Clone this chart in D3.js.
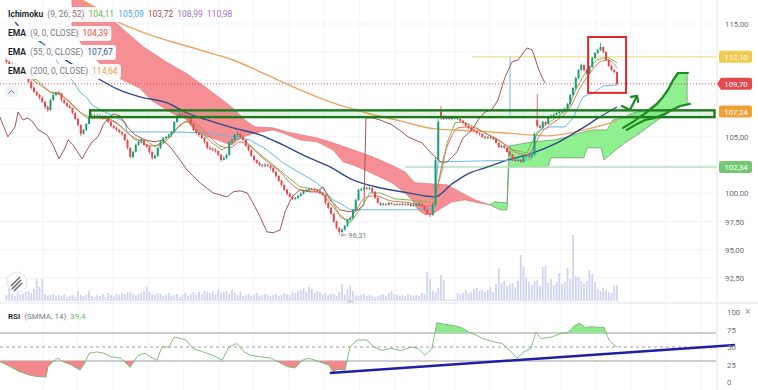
<!DOCTYPE html>
<html>
<head>
<meta charset="utf-8">
<script src="https://cdn.jsdelivr.net/npm/d3@7"></script>
<style>
body{margin:0;background:#fff;}
svg{display:block;font-family:Roboto,"Noto Sans",sans-serif;}
</style>
</head>
<body>
<svg id="chart" width="758" height="390"></svg>
<script>
// ---- data (bar index, prices) ----
const candles = [
[112.0,112.2,111.5,111.64],[111.64,111.8,111.1,111.28],[111.28,111.6,111.2,111.46],[111.46,111.5,111.0,111.11],[111.11,111.2,110.6,110.75],[110.75,111.0,110.7,110.93],[110.93,111.0,110.5,110.58],[110.58,110.7,110.1,110.22],[110.22,110.4,109.8,109.87],[109.87,110.0,109.2,109.34],
[109.34,109.5,108.9,108.98],[108.98,109.1,108.6,108.72],[108.72,108.8,108.3,108.45],[108.45,108.6,108.0,108.10],[108.10,108.2,107.5,107.65],[107.65,107.8,107.2,107.39],[107.39,108.4,107.3,108.27],[108.27,108.9,108.2,108.72],[108.72,109.0,108.6,108.89],[108.89,109.1,108.7,108.85],
[108.85,108.9,108.1,108.27],[108.27,108.4,107.9,108.01],[108.01,108.1,107.6,107.74],[107.74,107.9,107.5,107.57],[107.57,107.6,107.0,107.12],[107.12,107.2,106.5,106.59],[106.59,106.7,105.9,106.06],[106.06,106.1,105.1,105.27],[105.27,105.7,105.2,105.62],[105.62,106.2,105.5,106.15],
[106.15,106.8,106.1,106.68],[106.68,107.0,106.6,106.86],[106.86,107.0,106.6,106.77],[106.77,107.0,106.7,106.86],[106.86,107.0,106.6,106.77],[106.77,106.9,106.5,106.68],[106.68,106.9,106.6,106.77],[106.77,106.8,106.2,106.33],[106.33,106.4,105.9,105.97],[105.97,106.1,105.7,105.80],
[105.80,105.9,105.5,105.62],[105.62,105.7,105.3,105.44],[105.44,105.5,105.1,105.27],[105.27,105.3,104.6,104.73],[104.73,104.8,103.9,104.03],[104.03,104.1,103.1,103.23],[103.23,103.8,103.1,103.67],[103.67,104.4,103.6,104.29],[104.29,104.7,104.2,104.56],[104.56,104.9,104.4,104.73],
[104.73,104.8,104.2,104.29],[104.29,104.4,104.0,104.12],[104.12,104.2,103.5,103.67],[103.67,103.7,103.0,103.14],[103.14,103.5,103.0,103.32],[103.32,104.1,103.2,104.03],[104.03,104.7,103.9,104.56],[104.56,105.0,104.4,104.91],[104.91,105.1,104.8,105.00],[105.00,105.3,104.9,105.18],
[105.18,105.5,105.0,105.44],[105.44,106.4,105.3,106.33],[106.33,107.0,106.2,106.86],[106.86,107.3,106.7,107.04],[107.04,107.3,106.8,106.95],[106.95,107.2,106.7,106.86],[106.86,107.1,106.5,106.68],[106.68,106.8,106.0,106.15],[106.15,106.2,105.5,105.62],[105.62,105.7,105.2,105.35],
[105.35,105.4,105.0,105.18],[105.18,105.3,104.8,104.91],[104.91,105.0,104.4,104.56],[104.56,104.6,103.9,104.03],[104.03,104.2,103.8,103.94],[103.94,104.1,103.7,103.85],[103.85,104.0,103.6,103.76],[103.76,103.8,103.3,103.41],[103.41,103.5,102.8,102.96],[102.96,103.3,102.9,103.14],
[103.14,103.5,103.0,103.41],[103.41,104.6,103.3,104.56],[104.56,104.9,104.4,104.73],[104.73,105.3,104.6,105.18],[105.18,105.5,105.0,105.27],[105.27,105.4,104.9,105.00],[105.00,105.1,104.6,104.73],[104.73,104.8,104.1,104.20],[104.20,104.3,103.7,103.85],[103.85,103.9,103.2,103.32],
[103.32,103.4,102.8,102.96],[102.96,103.0,102.6,102.70],[102.70,102.8,102.4,102.52],[102.52,102.6,102.3,102.43],[102.43,102.7,102.3,102.52],[102.52,102.6,102.3,102.43],[102.43,102.5,102.1,102.26],[102.26,102.3,101.8,101.90],[101.90,102.0,101.4,101.55],[101.55,101.6,101.0,101.11],
[101.11,101.2,100.6,100.75],[100.75,100.8,100.2,100.31],[100.31,100.4,99.8,99.96],[99.96,100.1,99.6,99.69],[99.69,99.8,99.4,99.51],[99.51,99.7,99.4,99.60],[99.60,99.9,99.5,99.78],[99.78,100.1,99.7,99.96],[99.96,100.3,99.9,100.22],[100.22,100.4,100.1,100.31],
[100.31,100.5,100.2,100.40],[100.40,100.5,100.3,100.38],[100.38,100.5,100.2,100.31],[100.31,100.4,100.1,100.22],[100.22,100.3,99.9,100.04],[100.04,100.1,99.8,99.87],[99.87,99.9,99.0,99.16],[99.16,99.2,98.6,98.72],[98.72,98.8,98.1,98.19],[98.19,98.3,97.4,97.48],
[97.48,97.6,96.8,96.95],[96.95,97.0,96.31,96.59],[96.59,96.9,96.5,96.77],[96.77,97.2,96.7,97.12],[97.12,97.7,97.0,97.65],[97.65,97.9,97.5,97.83],[97.83,98.6,97.7,98.54],[98.54,99.5,98.4,99.42],[99.42,100.4,99.3,100.31],[100.31,100.5,100.2,100.35],
[100.35,100.6,100.3,100.49],[100.49,100.6,100.3,100.40],[100.40,100.6,100.3,100.49],[100.49,100.5,100.0,100.13],[100.13,100.2,99.5,99.60],[99.60,99.7,99.1,99.16],[99.16,99.2,98.9,98.98],[98.98,99.2,98.9,99.07],[99.07,99.1,98.9,98.98],[98.98,99.2,98.9,99.16],
[99.16,99.2,99.0,99.07],[99.07,99.1,98.9,98.98],[98.98,99.1,98.9,99.07],[99.07,99.1,98.9,98.98],[98.98,99.2,98.9,99.07],[99.07,99.1,98.9,98.98],[98.98,99.2,98.9,99.07],[99.07,99.1,98.8,98.89],[98.89,99.1,98.8,98.98],[98.98,99.1,98.9,99.00],
[99.00,99.2,98.9,99.07],[99.07,99.1,98.8,98.89],[98.89,98.9,98.4,98.54],[98.54,98.6,98.1,98.19],[98.19,98.3,97.9,98.10],[98.10,99.2,98.0,98.98],[98.98,103.2,98.9,102.96],[102.96,106.6,102.8,106.33],[107.21,107.75,106.5,106.77],[106.77,106.9,106.5,106.59],
[106.59,106.8,106.5,106.68],[106.68,106.8,106.5,106.59],[106.59,106.8,106.5,106.68],[106.68,106.8,106.6,106.70],[106.70,106.8,106.5,106.59],[106.59,106.7,106.3,106.42],[106.42,106.5,106.1,106.24],[106.24,106.3,105.9,105.97],[105.97,106.1,105.7,105.80],[105.80,105.9,105.5,105.62],
[105.62,105.7,105.4,105.53],[105.53,105.6,105.2,105.35],[105.35,105.4,105.1,105.27],[105.27,105.3,104.9,105.00],[105.00,105.1,104.8,104.91],[104.91,105.1,104.8,105.00],[105.00,105.1,104.8,104.91],[104.91,105.0,104.7,104.82],[104.82,104.9,104.4,104.47],[104.47,104.5,104.0,104.12],
[104.12,104.3,104.0,104.20],[104.20,104.3,103.9,104.03],[104.03,104.1,103.6,103.67],[103.67,103.8,103.3,103.41],[103.41,103.5,102.85,102.96],[102.96,103.1,102.8,102.88],[102.88,103.1,102.8,102.96],[102.96,103.0,102.7,102.79],[102.79,103.3,102.7,103.23],[103.23,103.4,103.1,103.32],
[103.32,103.4,103.1,103.23],[103.23,103.5,103.1,103.41],[103.41,105.4,103.3,105.27],[106.50,108.8,105.8,105.97],[105.97,106.1,105.7,105.80],[105.80,106.4,105.7,106.33],[106.33,106.4,106.0,106.15],[106.15,106.8,106.1,106.68],[106.68,107.0,106.6,106.86],[106.86,107.1,106.8,106.95],
[106.95,107.2,106.9,107.12],[107.12,107.3,107.0,107.21],[107.21,107.4,107.1,107.30],[107.30,107.6,107.2,107.48],[107.48,108.0,107.4,107.92],[107.92,108.8,107.8,108.72],[108.72,109.4,108.6,109.34],[109.34,110.3,109.2,110.22],[110.22,111.0,110.1,110.93],[110.93,111.5,110.8,111.37],
[111.37,111.4,110.8,110.93],[110.93,111.0,110.5,110.66],[110.66,111.3,110.6,111.19],[111.19,112.1,111.1,111.99],[111.99,112.5,111.9,112.43],[112.43,112.8,112.3,112.70],[112.70,113.32,112.6,112.96],[112.96,113.0,112.4,112.52],[112.52,112.6,111.7,111.81],[111.81,111.9,111.2,111.28],
[111.28,111.4,110.8,110.93],[110.93,111.0,110.6,110.75],[110.75,110.8,109.6,109.70]
];

const volumes = [
300,700,350,250,400,300,350,450,500,400,
600,1100,700,1100,350,250,300,350,250,300,
250,350,200,250,300,200,500,300,250,300,
500,250,200,300,250,350,200,400,300,250,
350,300,400,350,450,450,350,300,350,400,
500,700,450,350,300,400,350,250,300,400,
250,300,350,200,300,400,250,350,450,300,
450,350,500,450,400,500,350,550,400,450,
500,350,550,400,300,450,250,300,350,250,
300,400,250,300,350,300,250,300,350,250,
300,400,350,300,450,400,500,550,650,450,
700,600,400,500,450,350,400,300,350,350,
250,450,850,350,600,800,500,300,250,300,
350,250,300,250,200,250,300,350,250,400,
500,350,300,250,300,250,350,300,250,300,
250,400,350,1450,1100,500,450,650,1300,1050,
80,60,60,80,400,350,400,550,400,450,
600,650,500,550,450,550,700,450,850,1650,
900,1000,750,850,900,700,1000,2300,1700,1200,
950,800,1000,1050,750,1700,1750,900,1100,800,
950,1400,850,950,1650,1100,3300,1250,1200,1000,
850,1000,1550,1350,950,600,500,650,550,450,
400,750,800
];

const ema200 = [[0,121.1],[27,117.12],[37.6,115.53],[52.2,114.03],[70.4,112.7],[82.4,111.81],[94.7,110.49],[106.7,109.16],[118.7,108.01],[131,107.12],[143.1,106.42],[155.8,105.71],[170.4,105.53],[181.3,105.35],[196.5,105.09],[208.5,105.53],[222,106.42]];
const ema55 = [[0,116.42],[3.1,115.18],[12.9,113.32],[23.1,111.55],[32.2,110.31],[40.2,109.25],[48.5,108.54],[58.4,108.01],[65.6,107.12],[72.9,106.5],[82.4,105.8],[92.2,105.18],[100.5,104.29],[109.3,103.23],[117.6,102.35],[126,101.19],[135.8,100.49],[146,100.04],[155.8,99.69],[162,100.84],[167.8,101.73],[174,102.26],[181.3,102.88],[191.5,103.58],[200.2,104.47],[209.6,105.8],[215.8,106.77],[222,107.65]];
const ema9 = [[8.5,110.22],[12.2,109.6],[15.8,108.98],[19.5,108.72],[23.1,108.1],[26.7,107.21],[30.4,106.77],[34,106.68],[37.6,106.5],[41.3,105.97],[44.9,105.18],[48.5,104.65],[52.2,104.2],[55.8,104.29],[59.5,105],[63.1,106.06],[66.7,106.42],[70.4,105.88],[74,105],[77.6,104.2],[81.3,104.03],[84.9,104.56],[88.5,104.2],[92.2,103.32],[95.8,102.61],[99.5,101.9],[103.1,100.93],[106.7,100.31],[110.4,100.22],[114,100.04],[117.6,99.16],[121.3,98.1],[124.2,97.65],[126.7,98.36],[130.4,99.6],[134,99.78],[139.5,99.34],[146.7,99.16],[152.2,98.81],[155.1,98.98],[156.9,100.75],[158.7,102.96],[161.3,104.73],[164.2,105.8],[168.5,105.88],[174,105.35],[179.5,104.65],[184.9,103.67],[189.3,103.41],[191.5,104.03],[194,105.18],[197.6,106.06],[201.3,106.68],[204.9,107.57],[208.5,109.34],[212.2,110.66],[215.8,111.64],[218.7,111.81],[222,111.11]];
const tenkan = [[8.5,110.22],[11.1,110.04],[15.8,108.98],[19.5,108.89],[23.1,108.01],[25.6,107.39],[29.3,106.68],[34,106.68],[36.5,106.77],[40.2,106.24],[43.8,105.44],[46.7,104.73],[50.4,104.73],[54,104.12],[57.6,104.73],[61.3,105.62],[64.9,106.33],[67.5,106.24],[71.1,105.35],[74.7,104.47],[78.4,103.85],[80.5,104.12],[83.1,104.73],[85.6,104.91],[90.4,103.85],[94.7,102.96],[100.5,101.81],[106.7,100.58],[112.9,100.31],[117.6,99.69],[121.3,97.92],[124.9,97.39],[128.5,98.54],[132.2,100.04],[135.8,100.04],[141.3,99.51],[146,99.42],[153.3,99.25],[155.8,99.69],[158.4,102.08],[160.2,104.47],[163.1,106.24],[165.6,106.33],[170.4,105.88],[175.1,105.18],[180.2,104.47],[184.2,103.85],[189.3,103.58],[191.5,104.73],[195,105.88],[200.2,106.77],[203.8,107.39],[207.5,109.42],[211.1,110.93],[214.7,111.81],[218.4,112.08],[220.5,111.81],[222,111.55]];
const kijun = [[12.2,113.58],[23.8,110.04],[26.7,108.98],[29.3,108.45],[31.1,107.83],[32.9,107.57],[36.5,107.12],[40.2,106.68],[43.1,106.33],[43.8,105.44],[60.2,105.44],[72.9,105.35],[82.4,105],[88.5,104.73],[94.7,103.85],[100.5,102.7],[106.7,101.81],[112.9,100.93],[118.7,99.42],[122.4,98.98],[124.9,98.54],[147.5,98.54],[155.8,98.72],[156.9,102.79],[190.4,102.96],[192.9,105.44],[197.6,105.88],[203.1,105.88],[206,106.68],[209.6,108.54],[214,108.98],[216.9,109.51],[222,109.6]];
const chikou = [[-2.4,106.77],[0.5,105],[3.1,105.88],[4.2,107.21],[6,106.5],[7.8,106.68],[9.6,106.33],[11.5,105.62],[14.7,105.18],[16.9,104.29],[19.1,103.05],[21.3,104.03],[22.4,104.73],[24.2,104.29],[27.5,103.05],[29.3,103.85],[31.1,104.56],[32.9,104.91],[34,105.35],[35.1,106.06],[36.5,106.5],[38.7,107.04],[41.3,106.86],[44.2,105.8],[46.7,105.18],[50.4,104.73],[54,104.56],[56.9,104.73],[59.5,104.12],[63.1,102.96],[65.6,102.08],[70.4,100.93],[75.1,100.04],[80.2,99.69],[82.4,100.13],[84.9,100.22],[87.5,100.04],[89.6,99.16],[92.2,97.92],[94.7,96.59],[96.9,96.5],[99.5,96.77],[101.3,98.36],[103.8,99.69],[106.7,100.31],[110.4,100.13],[112.9,100.13],[115.1,100.58],[117.6,99.42],[121.3,98.54],[124.9,98.36],[127.8,98.54],[130,98.98],[130.7,106.68],[133.3,106.68],[135.8,106.5],[140.2,106.06],[143.8,105.44],[146,105],[148.5,104.73],[151.1,104.47],[153.3,103.85],[155.8,103.23],[158.4,102.7],[160.2,102.79],[162,103.23],[163.8,103.67],[166,104.91],[169.3,105.62],[171.5,106.5],[174,107.21],[176.5,107.39],[178.7,108.27],[181.3,110.31],[183.8,111.64],[186,111.81],[187.8,112.43],[189.3,112.88],[191.1,112.7],[192.2,111.99],[193.3,111.11],[194.7,110.31],[195.8,109.78]];

// Ichimoku cloud edges
const bearTop = [[23.8,117.6],[34,116.3],[40.2,115.0],[49.6,113.0],[58.4,111.6],[65.6,110.6],[72.9,109.3],[79.5,108.1],[83.1,107.39],[86.7,106.5],[90.4,105.88],[96.9,105.8],[102,105.44],[112.9,104.91],[118.7,104.47],[126,103.85],[131.1,103.41],[135.8,102.96],[141.3,102.35],[144.9,101.9],[148.5,100.93],[160.2,100.75],[165.6,100.04],[170.4,99.42],[175.8,98.98]];
const bearBottom = [[23.8,114.5],[28.5,112.8],[34,111.5],[40.2,110.3],[48.5,109.3],[52.9,108.2],[57.6,107.5],[61.3,106.95],[64.9,106.68],[67.5,105.88],[69.6,105.35],[73.3,105],[76.9,104.73],[79.5,104.47],[82,104.29],[84.2,104.73],[86,105],[90.4,105.35],[96.9,105.62],[100.5,105.35],[106.7,104.73],[112.9,104.56],[118.7,103.85],[122.4,102.79],[126,102.52],[128.5,102.26],[134,101.64],[140.2,100.93],[144.9,100.04],[147.5,99.42],[149.6,98.54],[152.2,98.1],[155.1,98.19],[158.4,98.72],[162,99.25],[166.7,99.42],[171.5,99.16],[175.8,98.98]];
const bullTop = [[175.8,98.98],[177.6,99.25],[181.3,99.16],[182,99.16],[182.7,104.2],[191.5,104.56],[198.9,104.73],[204,105],[208.5,105.35],[213.3,105.62],[218.4,105.62],[220.5,106.5],[224.2,106.68],[227.8,107.12],[232.9,107.39],[236.5,108.01],[240.2,108.89],[243.8,110.66],[247.5,110.66]];
const bullBottom = [[175.8,98.98],[179.5,98.54],[182,98.54],[182.7,102.35],[196.9,102.35],[198,103.14],[210,103.14],[211.1,104.03],[216.2,104.03],[217.3,102.96],[220.2,103.58],[224.9,104.47],[230.4,105.35],[235.8,106.33],[239.5,106.95],[243.1,107.57],[247.5,107.83]];

const rsi = [[-2.4,29],[1.3,22],[4.5,15],[8.2,10],[10.7,8],[14.4,7],[15.1,22],[16.9,29],[18.7,34],[20.5,29],[23.8,24],[26.7,17],[28.5,27],[30,41],[32.9,43],[35.5,41],[38,36],[41.6,34],[44.2,24],[44.9,21],[47.8,38],[50.4,41],[52.2,36],[54.7,31],[56.5,50],[59.1,50],[60.9,64],[63.5,62],[65.3,60],[67.8,48],[71.5,43],[75.1,38],[78.4,31],[80.9,50],[83.8,55],[86.4,43],[88.9,38],[92.5,36],[96.2,34],[98.7,29],[102,22],[104.9,20],[107.5,31],[110,34],[113.6,29],[117.3,24],[118.7,15],[120.5,18],[123.1,17],[124.9,50],[127.5,60],[131.1,60],[133.6,50],[136.5,45],[139.8,48],[143.5,45],[147.1,50],[149.6,48],[152.2,38],[154.7,48],[156.5,85],[158.4,83],[162,81],[165.3,78],[168.2,71],[170.7,67],[173.3,62],[177.6,57],[180.2,55],[183.1,45],[185.6,34],[188.2,43],[190.7,48],[192.5,71],[194.4,62],[198,64],[201.3,69],[204.2,71],[206.7,81],[208.5,84],[210.4,78],[212.9,79],[215.5,78],[217.3,78],[219.1,60],[220.9,53],[222,50]];

// levels and drawings
const priceTicks = [92.5,95,97.5,100,102.5,105,107.5,110,112.5,115];
const rsiTicks = [0,25,50,75,100];
const gridBars = [13.3,26,38.7,51.5,64.5,77.3,90,102.7,115.5,128.5,141.3,154,163.1,175.8,188.5,201.6,214.4,227.1,239.8,252.5];
const badges = [[112.10,"#f2c94c"],[109.70,"#e5484d"],[107.24,"#f0a134"],[102.34,"#72c972"]];
const zone = {from:30.4, top:107.35, bottom:106.75};
const yellowLevel = {from:169.3, price:112.10};
const greenLevel = {from:144.9, price:102.34};
const blueMarker = {bar:183.1, from:112.10, to:106.9};
const lastPrice = 109.70;
const redBox = {x0:211.5, x1:225.3, top:113.85, bottom:108.9};
const penUpper = [[224.2,105.8],[227.8,106.33],[231.5,106.95],[234,107.39],[236.5,107.92],[238.7,108.54],[240.5,109.16],[242.4,110.04],[244.2,110.66],[247.8,110.66]];
const penLower = [[225.6,105.62],[229.3,106.15],[232.2,106.5],[235.8,106.68],[239.5,107.04],[242,107.39],[244.9,107.74],[248.5,107.92]];
const penArrow = [[223.8,107.74],[226.7,107.39],[229.3,108.63]];
const rsiTrend = [[117.6,12.9],[264.9,52.9]];

// ---- scales ----
const svg = d3.select("#chart");
const axisX = 716;
const x = d3.scaleLinear().domain([0,248]).range([6.5,688.5]);
const y = d3.scaleLinear().domain([92.5,115]).range([278,24]);
const yV = d3.scaleLinear().domain([0,3400]).range([301,233]);
const yR = d3.scaleLinear().domain([0,100]).range([382,312]);
const fmt = v => v.toFixed(2).replace(".",",");

const defs = svg.append("defs");
defs.append("clipPath").attr("id","mainClip").append("rect").attr("x",0).attr("y",0).attr("width",axisX).attr("height",302);
defs.append("clipPath").attr("id","rsiClip").append("rect").attr("x",0).attr("y",304).attr("width",axisX).attr("height",86);
defs.append("clipPath").attr("id","rsiHi").append("rect").attr("x",0).attr("y",304).attr("width",axisX).attr("height",yR(70)-304);
defs.append("clipPath").attr("id","rsiLo").append("rect").attr("x",0).attr("y",yR(30)).attr("width",axisX).attr("height",390-yR(30));

// grid
const grid = svg.append("g").attr("stroke","#f0f3fa").attr("stroke-width",1);
grid.selectAll(".vg").data(gridBars).enter().append("line")
  .attr("x1",d=>x(d)).attr("x2",d=>x(d)).attr("y1",0).attr("y2",390);
grid.selectAll(".hg").data(priceTicks).enter().append("line")
  .attr("x1",0).attr("x2",axisX).attr("y1",d=>y(d)).attr("y2",d=>y(d));

const main = svg.append("g").attr("clip-path","url(#mainClip)");

// volume
main.append("g").selectAll("rect").data(volumes).enter().append("rect")
  .attr("x",(d,i)=>x(i)-0.9).attr("width",1.8)
  .attr("y",d=>yV(d)).attr("height",d=>301-yV(d))
  .attr("fill","#cfd4f2");

// cloud
const pl = d3.line().x(d=>x(d[0])).y(d=>y(d[1]));
main.append("path").attr("d",pl(bearTop.concat(bearBottom.slice().reverse()))+"Z")
  .attr("fill","#f47b80").attr("fill-opacity",0.85).attr("stroke","#e26a6f").attr("stroke-width",0.6);
main.append("path").attr("d",pl(bullTop.concat(bullBottom.slice().reverse()))+"Z")
  .attr("fill","#8ff08f").attr("stroke","#6c8f6c").attr("stroke-width",0.7);

// horizontal levels
main.append("line").attr("x1",x(yellowLevel.from)).attr("x2",axisX).attr("y1",y(yellowLevel.price)).attr("y2",y(yellowLevel.price))
  .attr("stroke","#f3e3a6").attr("stroke-width",1.5);
main.append("line").attr("x1",x(greenLevel.from)).attr("x2",axisX).attr("y1",y(greenLevel.price)).attr("y2",y(greenLevel.price))
  .attr("stroke","#b9e2b9").attr("stroke-width",1.5);
main.append("line").attr("x1",0).attr("x2",axisX).attr("y1",y(lastPrice)).attr("y2",y(lastPrice))
  .attr("stroke","#e5484d").attr("stroke-width",1).attr("stroke-dasharray","1,2");
main.append("line").attr("x1",x(blueMarker.bar)).attr("x2",x(blueMarker.bar)).attr("y1",y(blueMarker.from)).attr("y2",y(blueMarker.to))
  .attr("stroke","#8cc8ee").attr("stroke-width",1.2);

// indicator lines
const smooth = d3.line().x(d=>x(d[0])).y(d=>y(d[1])).curve(d3.curveMonotoneX);
function drawLine(data, color, w, gen){
  main.append("path").attr("d",(gen||pl)(data)).attr("fill","none").attr("stroke",color).attr("stroke-width",w);
}
drawLine(ema200,"#eba45e",1.4,smooth);
drawLine(ema55,"#2e4a8c",1.4,smooth);
drawLine(kijun,"#69b6e6",1);
drawLine(chikou,"#a8554f",1);
drawLine(tenkan,"#7db84a",1);
drawLine(ema9,"#e3735c",1,smooth);

// candles
const cg = main.append("g");
candles.forEach((c,i)=>{
  const col = c[3] >= c[0] ? "#1e9e74" : "#e5484d";
  cg.append("line").attr("x1",x(i)).attr("x2",x(i)).attr("y1",y(c[1])).attr("y2",y(c[2])).attr("stroke",col).attr("stroke-width",0.8);
  const top = y(Math.max(c[0],c[3])), bot = y(Math.min(c[0],c[3]));
  cg.append("rect").attr("x",x(i)-1).attr("width",2).attr("y",top).attr("height",Math.max(1,bot-top)).attr("fill",col);
});

// zone rectangle
main.append("rect").attr("x",x(zone.from)).attr("width",axisX-x(zone.from)-1.5)
  .attr("y",y(zone.top)).attr("height",y(zone.bottom)-y(zone.top))
  .attr("fill","#4caf50").attr("fill-opacity",0.15).attr("stroke","#1f7a1f").attr("stroke-width",2.4);

// pen drawings
const pg = main.append("g").attr("fill","none").attr("stroke","#1f8a1f").attr("stroke-width",2.2).attr("stroke-linejoin","round").attr("stroke-linecap","round");
pg.append("path").attr("d",pl(penUpper));
pg.append("path").attr("d",pl(penLower));
pg.append("path").attr("d",pl(penArrow));
const ah = penArrow[2];
pg.append("path").attr("d",`M${x(ah[0])-6},${y(ah[1])+1}L${x(ah[0])},${y(ah[1])}L${x(ah[0])+1},${y(ah[1])+6}`);

// red box
main.append("rect").attr("x",x(redBox.x0)).attr("y",y(redBox.top)).attr("width",x(redBox.x1)-x(redBox.x0)).attr("height",y(redBox.bottom)-y(redBox.top))
  .attr("fill","none").attr("stroke","#e0262b").attr("stroke-width",2);

// low label
const low = candles[121];
svg.append("text").attr("x",x(121)+9).attr("y",y(low[2])+3).attr("font-size",7.5).attr("fill","#787b86").text("96,31");
svg.append("path").attr("d",`M${x(121)+2},${y(low[2])}h5M${x(121)+2},${y(low[2])}l2,-1.5M${x(121)+2},${y(low[2])}l2,1.5`).attr("stroke","#787b86").attr("stroke-width",0.7).attr("fill","none");

// separators
svg.append("line").attr("x1",0).attr("x2",758).attr("y1",303).attr("y2",303).attr("stroke","#e0e3eb");
svg.append("line").attr("x1",axisX+1).attr("x2",axisX+1).attr("y1",0).attr("y2",390).attr("stroke","#e0e3eb");
svg.append("rect").attr("x",347).attr("y",300).attr("width",7).attr("height",3).attr("fill","#d5d8e0");

// price axis: labels hidden by the badges are left out
const pa = svg.append("g").attr("font-size",7.8).attr("fill","#6a6d78");
const covered = t => badges.some(b=>Math.abs(y(b[0])-y(t))<9);
pa.selectAll("text").data(priceTicks.filter(t=>!covered(t))).enter().append("text")
  .attr("x",725).attr("y",d=>y(d)+3).text(fmt);
badges.forEach(b=>{
  const yy = y(b[0]);
  if (b[0] === lastPrice) {
    svg.append("path").attr("d",`M717,${yy}L721,${yy-6}H750a2,2 0 0 1 2,2V${yy+4}a2,2 0 0 1 -2,2H721Z`).attr("fill",b[1]);
  } else {
    svg.append("rect").attr("x",719).attr("y",yy-6).attr("width",33).attr("height",12).attr("rx",2).attr("fill",b[1]);
  }
  svg.append("text").attr("x",736).attr("y",yy+3).attr("text-anchor","middle").attr("font-size",7.8).attr("fill","#fff").text(fmt(b[0]));
});

// ---- RSI panel ----
const rp = svg.append("g").attr("clip-path","url(#rsiClip)");
[70,30].forEach(v=>rp.append("line").attr("x1",0).attr("x2",axisX).attr("y1",yR(v)).attr("y2",yR(v)).attr("stroke","#9e9e9e").attr("stroke-width",1));
rp.append("line").attr("x1",0).attr("x2",axisX).attr("y1",yR(50)).attr("y2",yR(50)).attr("stroke","#9e9e9e").attr("stroke-dasharray","3,3");
const rx = d=>x(d[0]);
rp.append("path").attr("clip-path","url(#rsiHi)").attr("fill","#8fe88f")
  .attr("d",d3.area().x(rx).y0(yR(70)).y1(d=>yR(d[1]))(rsi));
rp.append("path").attr("clip-path","url(#rsiLo)").attr("fill","#f3878b")
  .attr("d",d3.area().x(rx).y0(yR(30)).y1(d=>yR(d[1]))(rsi));
rp.append("path").attr("fill","none").attr("stroke","#72b872").attr("stroke-width",0.9)
  .attr("d",d3.line().x(rx).y(d=>yR(d[1]))(rsi));
svg.append("path").attr("fill","none").attr("stroke","#1f1fa6").attr("stroke-width",2.5)
  .attr("d",d3.line().x(rx).y(d=>yR(d[1]))(rsiTrend));
svg.append("g").attr("font-size",7.8).attr("fill","#6a6d78").selectAll("text").data(rsiTicks).enter().append("text")
  .attr("x",727).attr("y",d=>yR(d)+3).text(d=>d);
svg.append("text").attr("x",745).attr("y",315).attr("font-size",10).attr("fill","#9598a1").text("×");

// ---- legends ----
function legendRow(x0, yPos, parts, size){
  const g = svg.append("g");
  const bg = g.append("rect");
  const t = g.append("text").attr("x",x0).attr("y",yPos).attr("font-size",size||8.5);
  parts.forEach((p,k)=>t.append("tspan").attr("dx",k ? 4 : 0).attr("fill",p[1]).attr("font-weight",p[2]||400).text(p[0]));
  const b = t.node().getBBox();
  bg.attr("x",b.x-3).attr("y",b.y-2).attr("width",b.width+6).attr("height",b.height+4).attr("rx",3).attr("fill","#fff").attr("fill-opacity",0.92);
}
legendRow(8,17,[["Ichimoku","#131722",600],["(9, 26, 52)","#787b86"],["104,11","#5cb85c"],["105,09","#45a6e6"],["103,72","#b24a44"],["108,99","#a070c8"],["110,98","#a070c8"]]);
legendRow(8,36,[["EMA","#131722",600],["(9, 0, CLOSE)","#787b86"],["104,39","#e05a4f"]]);
legendRow(8,55,[["EMA","#131722",600],["(55, 0, CLOSE)","#787b86"],["107,67","#3060a8"]]);
legendRow(8,74,[["EMA","#131722",600],["(200, 0, CLOSE)","#787b86"],["114,64","#e8a050"]]);
legendRow(8,319,[["RSI","#131722",600],["(SMMA, 14)","#787b86"],["39,4","#5cb85c"]],8);

// collapse button and logo
svg.append("rect").attr("x",5).attr("y",86).attr("width",13).attr("height",11).attr("rx",2).attr("fill","#f0f3fa");
svg.append("path").attr("d","M8.5,93.5l3,-3l3,3").attr("fill","none").attr("stroke","#787b86").attr("stroke-width",1);
svg.append("circle").attr("cx",17).attr("cy",282).attr("r",10).attr("fill","#fff").attr("stroke","#e0e3eb");
svg.append("path").attr("d","M11,286l9,-9M12,289l9,-9M14,291l8,-8").attr("stroke","#6a6d78").attr("stroke-width",1.6);
</script>
</body>
</html>
